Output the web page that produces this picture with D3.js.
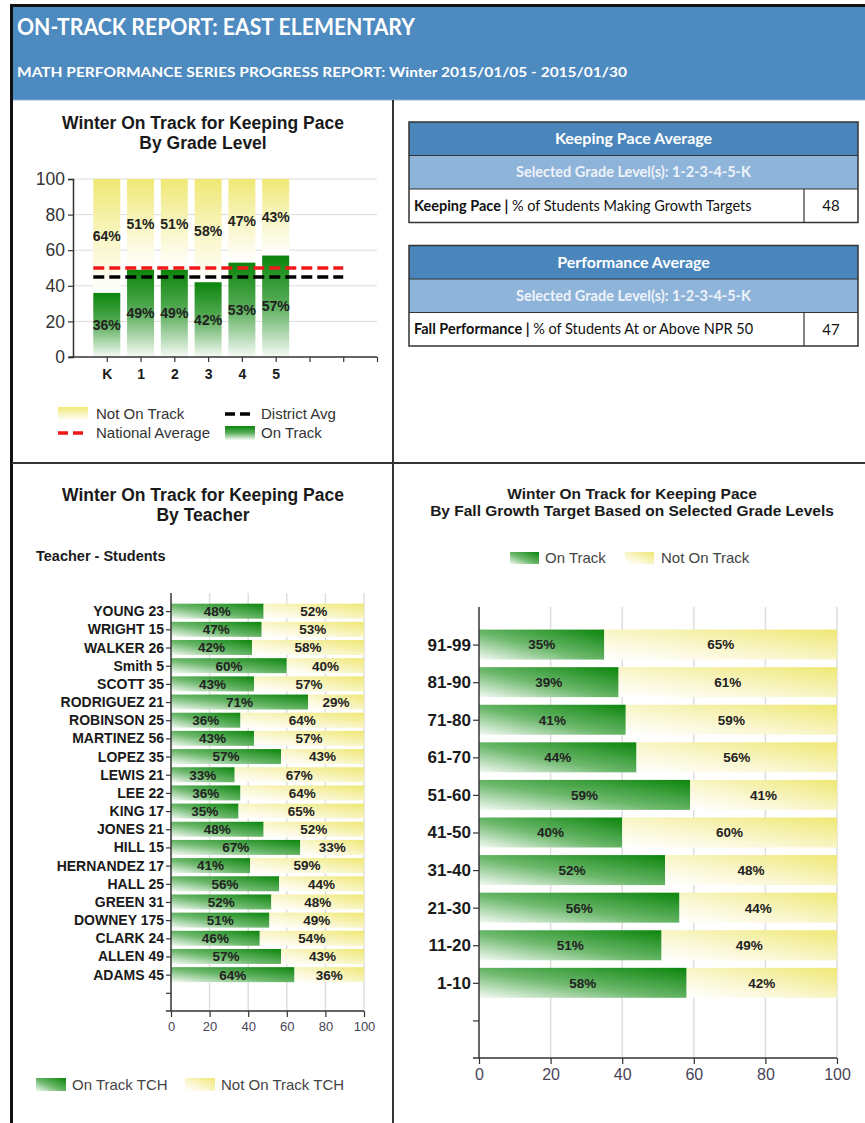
<!DOCTYPE html>
<html><head><meta charset="utf-8">
<script src="https://cdn.jsdelivr.net/npm/d3@7"></script>
<style>
html,body{margin:0;padding:0;background:#fff;}
svg{display:block;}
</style></head>
<body>
<script>
// ---------- DATA ----------
const reportTitle = "ON-TRACK REPORT: EAST ELEMENTARY";
const reportSubtitle = "MATH PERFORMANCE SERIES PROGRESS REPORT: Winter 2015/01/05 - 2015/01/30";

const grades = ["K","1","2","3","4","5"];
const gradeOnTrack = [36,49,49,42,53,57];
const gradeNotOnTrack = [64,51,51,58,47,43];
const nationalAverage = 50;
const districtAverage = 45;

const teachers = ["YOUNG 23","WRIGHT 15","WALKER 26","Smith 5","SCOTT 35","RODRIGUEZ 21","ROBINSON 25","MARTINEZ 56","LOPEZ 35","LEWIS 21","LEE 22","KING 17","JONES 21","HILL 15","HERNANDEZ 17","HALL 25","GREEN 31","DOWNEY 175","CLARK 24","ALLEN 49","ADAMS 45"];
const teacherOnTrack = [48,47,42,60,43,71,36,43,57,33,36,35,48,67,41,56,52,51,46,57,64];
const teacherNotOnTrack = [52,53,58,40,57,29,64,57,43,67,64,65,52,33,59,44,48,49,54,43,36];

const targets = ["91-99","81-90","71-80","61-70","51-60","41-50","31-40","21-30","11-20","1-10"];
const targetOnTrack = [35,39,41,44,59,40,52,56,51,58];
const targetNotOnTrack = [65,61,59,56,41,60,48,44,49,42];

const tableTitles = ["Keeping Pace Average","Performance Average"];
const tableSubtitles = ["Selected Grade Level(s): 1-2-3-4-5-K","Selected Grade Level(s): 1-2-3-4-5-K"];
const tableLabelBold = ["Keeping Pace |","Fall Performance |"];
const tableLabelRest = ["% of Students Making Growth Targets","% of Students At or Above NPR 50"];
const tableValues = [48,47];

const pctTicks = [0,20,40,60,80,100];

// ---------- SETUP ----------
const W = 865, H = 1123;
const svg = d3.select("body").append("svg").attr("width",W).attr("height",H)
  .style("font-family","'Liberation Sans', Arial, sans-serif");

const defs = svg.append("defs");
function grad(id, x1,y1,x2,y2, stops){
  const g = defs.append("linearGradient").attr("id",id)
    .attr("x1",x1).attr("y1",y1).attr("x2",x2).attr("y2",y2);
  stops.forEach(s=>g.append("stop").attr("offset",s[0]).attr("stop-color",s[1]));
}
const GREEN = "#0b850b", YELLOW = "#efe874";
grad("gV",0,0,0,1,[[0,GREEN],[0.5,"#5cae5c"],[1,"#f6fbf6"]]);
grad("yV",0,0,0,1,[[0,YELLOW],[0.55,"#f9f6c8"],[1,"#ffffff"]]);
grad("gH",0,1,1,0,[[0,"#f4faf4"],[0.45,"#6cb86c"],[1,GREEN]]);
grad("yH",0,1,1,0,[[0,"#ffffff"],[0.4,"#faf7d2"],[1,YELLOW]]);

// ---------- FRAME & HEADER ----------
svg.append("rect").attr("x",13).attr("y",7).attr("width",W-13).attr("height",93).attr("fill","#4d8abf");
svg.append("line").attr("x1",13).attr("x2",W).attr("y1",100).attr("y2",100).attr("stroke","#8fb4d6").attr("stroke-width",1);
svg.append("rect").attr("x",10).attr("y",4).attr("width",W-10).attr("height",3).attr("fill","#111");
svg.append("rect").attr("x",10).attr("y",4).attr("width",3).attr("height",H-4).attr("fill","#111");
svg.append("line").attr("x1",393).attr("x2",393).attr("y1",100).attr("y2",H).attr("stroke","#333").attr("stroke-width",2);
svg.append("line").attr("x1",12).attr("x2",W).attr("y1",463).attr("y2",463).attr("stroke","#333").attr("stroke-width",2);

svg.append("text").attr("x",17).attr("y",35).text(reportTitle)
  .attr("fill","#fff").attr("font-family","'Liberation Sans Narrow','Lato',sans-serif")
  .attr("font-weight","bold").attr("font-size",22).attr("textLength",398).attr("lengthAdjust","spacingAndGlyphs");
svg.append("text").attr("x",17).attr("y",77).text(reportSubtitle)
  .attr("fill","#fff").attr("font-family","'Liberation Sans Narrow','Lato',sans-serif")
  .attr("font-weight","bold").attr("font-size",13).attr("textLength",610).attr("lengthAdjust","spacingAndGlyphs");

function title(lines, cx, y0, dy, size){
  lines.forEach((t,i)=>svg.append("text").attr("x",cx).attr("y",y0+i*dy).attr("text-anchor","middle")
    .attr("font-weight","bold").attr("font-size",size).attr("fill","#1a1a1a").text(t));
}
function styleAxis(g, fs, fw, col){
  g.select(".domain").attr("stroke","#333").attr("stroke-width",1.5);
  g.selectAll(".tick line").attr("stroke","#333").attr("stroke-width",1.2);
  g.selectAll(".tick text").attr("font-size",fs).attr("font-weight",fw).attr("fill",col)
   .attr("font-family","'Liberation Sans', Arial, sans-serif");
}

// ---------- CHART 1: BY GRADE LEVEL ----------
title(["Winter On Track for Keeping Pace","By Grade Level"],203,129,20,17.5);
{
  const x = d3.scaleLinear().domain([-1,8]).range([73,377]);
  const y = d3.scaleLinear().domain([0,100]).range([357,179]);
  const bw = 27;
  const g = svg.append("g");
  g.selectAll("line.grid").data(pctTicks.slice(1)).join("line")
    .attr("x1",x(-1)).attr("x2",x(8)).attr("y1",d=>y(d)).attr("y2",d=>y(d))
    .attr("stroke","#dcdcdc").attr("stroke-width",1);
  g.selectAll("rect.n").data(grades).join("rect")
    .attr("x",(d,i)=>x(i)-bw/2).attr("width",bw)
    .attr("y",(d,i)=>y(gradeOnTrack[i]+gradeNotOnTrack[i])).attr("height",(d,i)=>y(gradeOnTrack[i])-y(gradeOnTrack[i]+gradeNotOnTrack[i]))
    .attr("fill","url(#yV)");
  g.selectAll("rect.o").data(grades).join("rect")
    .attr("x",(d,i)=>x(i)-bw/2).attr("width",bw)
    .attr("y",(d,i)=>y(gradeOnTrack[i])).attr("height",(d,i)=>y(0)-y(gradeOnTrack[i]))
    .attr("fill","url(#gV)");
  g.append("line").attr("x1",x(0)-bw/2).attr("x2",x(7)).attr("y1",y(nationalAverage)).attr("y2",y(nationalAverage))
    .attr("stroke","#f01818").attr("stroke-width",3.5).attr("stroke-dasharray","11,5");
  g.append("line").attr("x1",x(0)-bw/2).attr("x2",x(7)).attr("y1",y(districtAverage)).attr("y2",y(districtAverage))
    .attr("stroke","#000").attr("stroke-width",3.5).attr("stroke-dasharray","11,5");
  g.selectAll("text.o").data(grades).join("text")
    .attr("x",(d,i)=>x(i)).attr("y",(d,i)=>y(gradeOnTrack[i]/2)+5).attr("text-anchor","middle")
    .attr("font-size",14).attr("font-weight","bold").attr("fill","#222").text((d,i)=>gradeOnTrack[i]+"%");
  g.selectAll("text.n").data(grades).join("text")
    .attr("x",(d,i)=>x(i)).attr("y",(d,i)=>y(gradeOnTrack[i]+gradeNotOnTrack[i]/2)+5).attr("text-anchor","middle")
    .attr("font-size",14).attr("font-weight","bold").attr("fill","#222").text((d,i)=>gradeNotOnTrack[i]+"%");
  const ya = g.append("g").attr("transform",`translate(${x(-1)},0)`)
    .call(d3.axisLeft(y).tickValues(pctTicks).tickSize(5).tickPadding(3));
  styleAxis(ya,17.5,"normal","#333");
  const xa = g.append("g").attr("transform",`translate(0,${y(0)})`)
    .call(d3.axisBottom(x).tickValues(d3.range(0,9)).tickSize(5).tickPadding(7).tickFormat(i=>grades[i]||""));
  styleAxis(xa,14,"bold","#1a1a1a");
  xa.select(".domain").attr("d",`M${x(-1)-4},0H${x(8)}`);
  const L = svg.append("g").attr("font-size",15).attr("fill","#333");
  L.append("rect").attr("x",58).attr("y",407).attr("width",30).attr("height",14).attr("fill","url(#yV)");
  L.append("text").attr("x",96).attr("y",419).text("Not On Track");
  L.append("line").attr("x1",225).attr("x2",255).attr("y1",414).attr("y2",414).attr("stroke","#000").attr("stroke-width",3.5).attr("stroke-dasharray","10,5");
  L.append("text").attr("x",261).attr("y",419).text("District Avg");
  L.append("line").attr("x1",58).attr("x2",88).attr("y1",433).attr("y2",433).attr("stroke","#f01818").attr("stroke-width",3.5).attr("stroke-dasharray","10,5");
  L.append("text").attr("x",96).attr("y",438).text("National Average");
  L.append("rect").attr("x",225).attr("y",426).attr("width",30).attr("height",14).attr("fill","url(#gV)");
  L.append("text").attr("x",261).attr("y",438).text("On Track");
}

// ---------- TABLES ----------
{
  const tx = 409, tw = 449, rh = 33.5, valX = 804;
  const tops = [122,245.5];
  tops.forEach((t,k)=>{
    const g = svg.append("g").attr("font-family","Lato, 'Open Sans', sans-serif");
    g.append("rect").attr("x",tx).attr("y",t).attr("width",tw).attr("height",rh).attr("fill","#4a86bb");
    g.append("rect").attr("x",tx).attr("y",t+rh).attr("width",tw).attr("height",rh).attr("fill","#8eb4d9");
    g.append("rect").attr("x",tx).attr("y",t+2*rh).attr("width",tw).attr("height",rh).attr("fill","#fff");
    g.append("rect").attr("x",tx).attr("y",t).attr("width",tw).attr("height",3*rh).attr("fill","none").attr("stroke","#333").attr("stroke-width",1.5);
    [1,2].forEach(r=>g.append("line").attr("x1",tx).attr("x2",tx+tw).attr("y1",t+r*rh).attr("y2",t+r*rh).attr("stroke","#333").attr("stroke-width",1.2));
    g.append("line").attr("x1",valX).attr("x2",valX).attr("y1",t+2*rh).attr("y2",t+3*rh).attr("stroke","#333").attr("stroke-width",1.2);
    g.append("text").attr("x",tx+tw/2).attr("y",t+rh/2+5.5).attr("text-anchor","middle").attr("fill","#fff")
      .attr("font-weight","bold").attr("font-size",16).text(tableTitles[k]);
    g.append("text").attr("x",tx+tw/2).attr("y",t+1.5*rh+5).attr("text-anchor","middle").attr("fill","#eef3f9")
      .attr("font-weight","bold").attr("font-size",14.5).text(tableSubtitles[k]);
    const tt = g.append("text").attr("x",tx+5).attr("y",t+2.5*rh+5).attr("font-size",14.5).attr("fill","#111");
    tt.append("tspan").attr("font-weight","bold").text(tableLabelBold[k]);
    tt.append("tspan").text(" "+tableLabelRest[k]);
    g.append("text").attr("x",(valX+tx+tw)/2).attr("y",t+2.5*rh+5.5).attr("text-anchor","middle")
      .attr("font-size",15).attr("fill","#111").text(tableValues[k]);
  });
}

// ---------- horizontal stacked chart helper ----------
function hChart(cfg){
  const {cats,on,off,x0,x1,yTop,yBot,bh,labFs,tickFs,xTickFs,nExtra,tickSize} = cfg;
  const n = cats.length;
  const x = d3.scaleLinear().domain([0,100]).range([x0,x1]);
  const y = d3.scaleLinear().domain([-1,n+nExtra-1]).range([yTop,yBot]);
  const g = svg.append("g");
  g.selectAll("line.grid").data(pctTicks.slice(1)).join("line")
    .attr("x1",d=>x(d)).attr("x2",d=>x(d)).attr("y1",yTop).attr("y2",yBot)
    .attr("stroke","#dedede").attr("stroke-width",1.5);
  g.selectAll("rect.o").data(cats).join("rect")
    .attr("x",x(0)).attr("y",(d,i)=>y(i)-bh/2).attr("height",bh)
    .attr("width",(d,i)=>x(on[i])-x(0)).attr("fill","url(#gH)");
  g.selectAll("rect.n").data(cats).join("rect")
    .attr("x",(d,i)=>x(on[i])).attr("y",(d,i)=>y(i)-bh/2).attr("height",bh)
    .attr("width",(d,i)=>x(on[i]+off[i])-x(on[i])).attr("fill","url(#yH)");
  g.selectAll("text.o").data(cats).join("text")
    .attr("x",(d,i)=>x(on[i]/2)).attr("y",(d,i)=>y(i)+labFs*0.36).attr("text-anchor","middle")
    .attr("font-size",labFs).attr("font-weight","bold").attr("fill","#222").text((d,i)=>on[i]+"%");
  g.selectAll("text.n").data(cats).join("text")
    .attr("x",(d,i)=>x(on[i]+off[i]/2)).attr("y",(d,i)=>y(i)+labFs*0.36).attr("text-anchor","middle")
    .attr("font-size",labFs).attr("font-weight","bold").attr("fill","#222").text((d,i)=>off[i]+"%");
  const ya = g.append("g").attr("transform",`translate(${x(0)},0)`)
    .call(d3.axisLeft(y).tickValues(d3.range(0,n+nExtra-1)).tickSize(tickSize).tickPadding(2).tickFormat(i=>cats[i]||""));
  styleAxis(ya,tickFs,"bold","#1a1a1a");
  ya.select(".domain").attr("d",`M0,${yTop}V${yBot}`);
  const xa = g.append("g").attr("transform",`translate(0,${yBot})`)
    .call(d3.axisBottom(x).tickValues(pctTicks).tickSize(6).tickPadding(5));
  styleAxis(xa,xTickFs,"normal","#4a4458");
  xa.select(".domain").attr("d",`M${x0-tickSize},0H${x1}`);
  return g;
}

// ---------- CHART 2: BY TEACHER ----------
title(["Winter On Track for Keeping Pace","By Teacher"],203,501,20,17.5);
svg.append("text").attr("x",36).attr("y",561).attr("font-size",14.5).attr("font-weight","bold").attr("fill","#1a1a1a").text("Teacher - Students");
hChart({cats:teachers,on:teacherOnTrack,off:teacherNotOnTrack,x0:171,x1:364,yTop:593,yBot:1011,bh:15,
  labFs:13.5,tickFs:14,xTickFs:13,nExtra:2,tickSize:5});
{
  const L = svg.append("g").attr("font-size",15).attr("fill","#444");
  L.append("rect").attr("x",36).attr("y",1078).attr("width",30).attr("height",13).attr("fill","url(#gH)");
  L.append("text").attr("x",72).attr("y",1090).text("On Track TCH");
  L.append("rect").attr("x",185).attr("y",1078).attr("width",30).attr("height",13).attr("fill","url(#yH)");
  L.append("text").attr("x",221).attr("y",1090).text("Not On Track TCH");
}

// ---------- CHART 3: BY FALL GROWTH TARGET ----------
title(["Winter On Track for Keeping Pace","By Fall Growth Target Based on Selected Grade Levels"],632,499,17,15.5);
{
  const L = svg.append("g").attr("font-size",15).attr("fill","#444");
  L.append("rect").attr("x",510).attr("y",552).attr("width",29).attr("height",12).attr("fill","url(#gH)");
  L.append("text").attr("x",545).attr("y",563).text("On Track");
  L.append("rect").attr("x",625).attr("y",552).attr("width",29).attr("height",12).attr("fill","url(#yH)");
  L.append("text").attr("x",661).attr("y",563).text("Not On Track");
}
hChart({cats:targets,on:targetOnTrack,off:targetNotOnTrack,x0:479,x1:837,yTop:607,yBot:1058,bh:30,
  labFs:13.5,tickFs:17,xTickFs:16,nExtra:2,tickSize:6});
</script>
</body></html>
